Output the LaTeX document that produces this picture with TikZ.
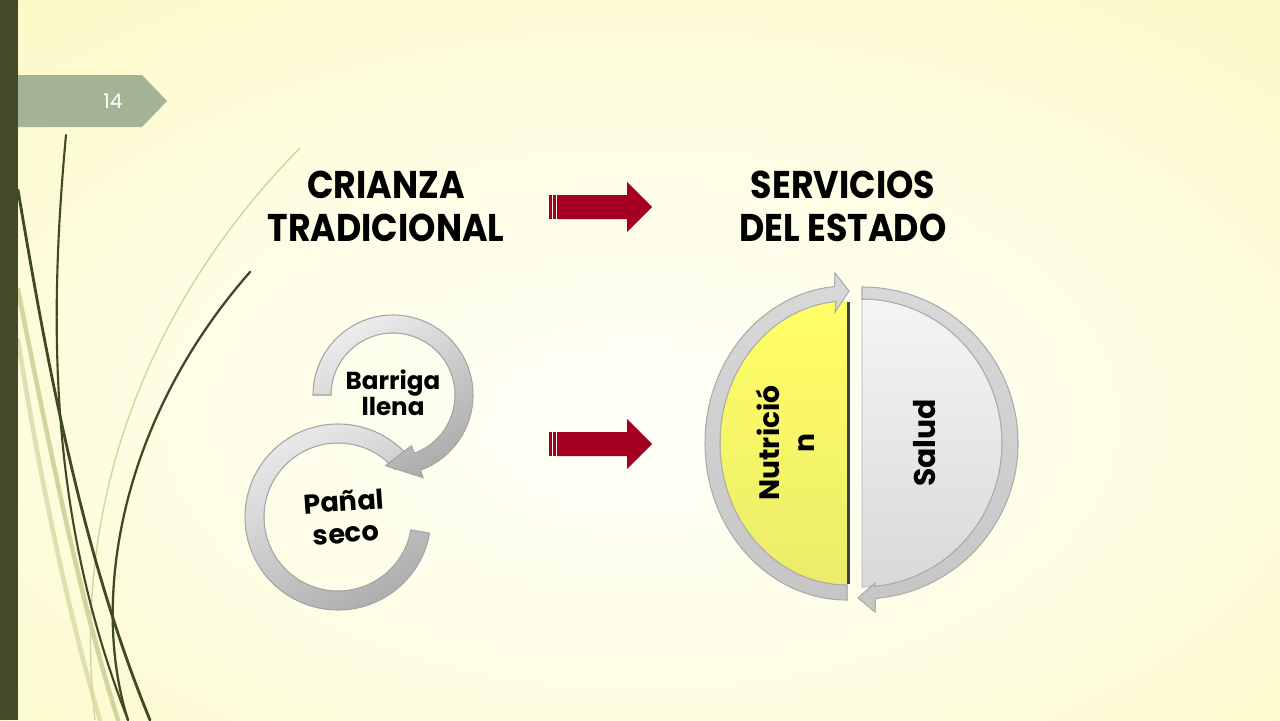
\documentclass[tikz,border=0pt]{standalone}
\usepackage{fontspec}
\setmainfont{Poppins}
\newfontfamily\titlefont{Poppins}[FakeStretch=0.9]
\usepackage{tikz}
\usetikzlibrary{calc}

\definecolor{barcol}{HTML}{434A28}
\definecolor{tabcol}{HTML}{A3B393}
\definecolor{arrowred}{HTML}{A50021}
\definecolor{leafdark}{HTML}{404A22}
\definecolor{leaflight}{HTML}{D3D59F}
\definecolor{bginner}{HTML}{FFFFF8}
\definecolor{bgouter}{HTML}{FBF8BA}
\definecolor{nutyellow}{HTML}{FFFF66}

\pgfdeclareradialshading{bgglow}{\pgfpoint{0bp}{-5bp}}{%
  color(0bp)=(bginner); color(18bp)=(bginner!70!bgouter);
  color(45bp)=(bgouter); color(100bp)=(bgouter)}

\tikzset{blockarrow/.pic={
    \fill[arrowred] (0,-12) rectangle (2.5,12);
    \fill[arrowred] (4,-12) rectangle (6.5,12);
    \fill[arrowred] (8,-12) -- (78,-12) -- (78,-25) -- (103,0) -- (78,25) -- (78,12) -- (8,12) -- cycle;
  }}

\begin{document}
\begin{tikzpicture}[x=0.02cm,y=-0.02cm,
    title text/.style={align=center,font=\titlefont\fontsize{22}{24.5}\selectfont\bfseries},
    label text/.style={align=center,text=black,font=\bfseries},
    ring/.style={draw=gray!70,line width=0.6pt,left color=gray!15,right color=gray!65,shading angle=30},
    band/.style={draw=gray!65,line width=0.6pt,top color=gray!30,bottom color=gray!45},
    leaf/.style={leafdark,line width=1.6pt,line cap=round},
    pale leaf/.style={leaflight,line width=2.6pt,line cap=round}]

  % background
  \shade[shading=bgglow] (0,0) rectangle (1280,720);
  \useasboundingbox (0,0) rectangle (1280,720);

  % stems
  \draw[pale leaf] (18,290) .. controls (50,450) and (80,600) .. (118,720);
  \draw[pale leaf,opacity=.7] (18,340) .. controls (40,480) and (70,620) .. (100,720);
  \draw[leaflight,line width=0.8pt] (300,148) .. controls (150,300) and (70,500) .. (95,720);
  \draw[leaf,line width=1.2pt] (66,135) .. controls (48,330) and (50,520) .. (128,720);
  \draw[leaf] (18,190) .. controls (45,350) and (80,550) .. (150,720);
  \draw[leaf,line width=1.3pt] (250,272) .. controls (120,420) and (90,600) .. (128,720);

  \fill[barcol] (0,0) rectangle (18,720);

  % page tab
  \fill[tabcol] (18,75) -- (142,75) -- (167,101) -- (142,127) -- (18,127) -- cycle;
  \node[text=white,font=\fontsize{11.5}{12}\selectfont] (pagenum) at (113,101) {14};

  % titles
  \node[title text] (crianza) at (386,206) {CRIANZA\\TRADICIONAL};
  \node[title text] (servicios) at (843,206) {SERVICIOS\\DEL ESTADO};

  \pic at (549,207) {blockarrow};
  \pic at (549,444) {blockarrow};

  % circular arrows
  \filldraw[ring,shift={(338,517)}] (-40:93) arc[start angle=-40,end angle=-350,radius=93]
    -- (-350:74) arc[start angle=-350,end angle=-40,radius=74] -- cycle;
  \filldraw[ring,shift={(393,395)}] (180:80) arc[start angle=180,end angle=430,radius=80]
    -- (430:88) -- (456:71) -- (430:54) -- (430:62) arc[start angle=430,end angle=180,radius=62] -- cycle;
  \node[label text,font=\fontsize{14}{15}\selectfont\bfseries] (barriga) at (393,393) {Barriga\\llena};
  \node[label text,font=\fontsize{15.5}{18}\selectfont\bfseries,rotate=4] (panal) at (345,517) {Pañal\\seco};

  % Nutricion
  \begin{scope}[shift={(847,443)}]
    \fill[top color=nutyellow,bottom color=nutyellow!85!gray] (90:127 and 142) arc[start angle=90,end angle=270,x radius=127,y radius=142] -- cycle;
    \draw[gray!50!black,line width=1.3pt] (1.5,-141) -- (1.5,141);
    \filldraw[band] (90:142 and 157) arc[start angle=90,end angle=265,x radius=142,y radius=157]
      -- (-12,-170) -- (2,-152) -- (-12,-131) -- (265:127 and 142)
      arc[start angle=265,end angle=90,x radius=127,y radius=142] -- cycle;
    \node[label text,font=\fontsize{16}{20}\selectfont\bfseries,rotate=90] (nutricion) at (-62,0) {Nutrició\\n};
  \end{scope}

  % Salud
  \begin{scope}[shift={(862,443)}]
    \filldraw[draw=gray!60,top color=gray!8,bottom color=gray!30] (-90:140 and 144) arc[start angle=-90,end angle=90,x radius=140,y radius=144] -- cycle;
    \filldraw[band] (-90:156 and 156) arc[start angle=-90,end angle=85,radius=156]
      -- (13,169) -- (-4,155) -- (13,140) -- (85:140 and 144)
      arc[start angle=85,end angle=-90,x radius=140,y radius=144] -- cycle;
    \node[label text,font=\fontsize{17}{20}\selectfont\bfseries,rotate=90] (salud) at (63,0) {Salud};
  \end{scope}
\end{tikzpicture}
\end{document}
